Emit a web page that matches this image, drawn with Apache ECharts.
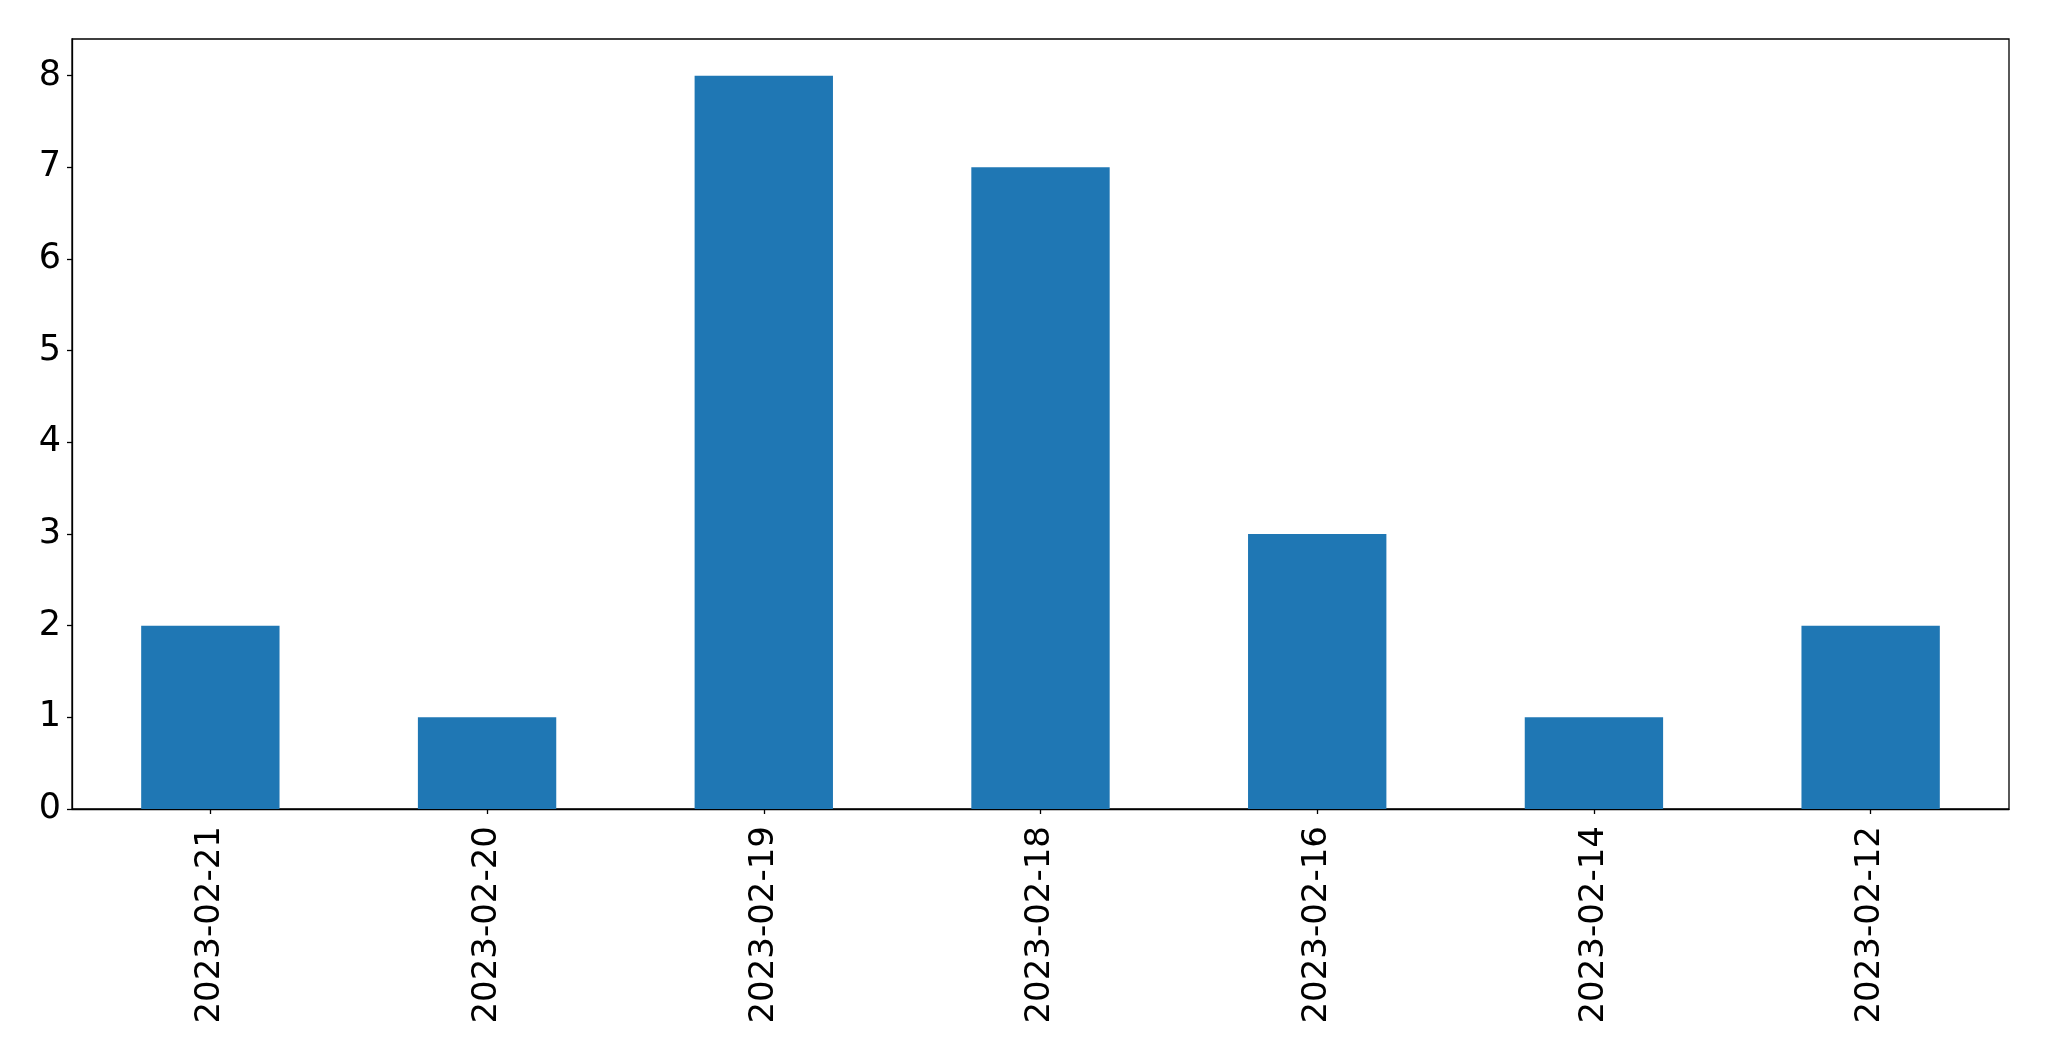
<!DOCTYPE html>
<html>
<head>
<meta charset="utf-8">
<script src="https://cdn.jsdelivr.net/npm/echarts@6/dist/echarts.min.js"></script>
<style>html,body{margin:0;padding:0;background:#fff}#c{width:2049px;height:1061px}</style>
</head>
<body>
<div id="c"></div>
<script>
const categories = ['2023-02-21','2023-02-20','2023-02-19','2023-02-18','2023-02-16','2023-02-14','2023-02-12'];
const values = [2, 1, 8, 7, 3, 1, 2];
const yTicks = [0, 1, 2, 3, 4, 5, 6, 7, 8];

const chart = echarts.init(document.getElementById('c'), null, {renderer: 'canvas'});
const font = 'DejaVu Sans';
chart.setOption({
  animation: false,
  backgroundColor: '#ffffff',
  grid: {left: 72, right: 40, top: 39, bottom: 252, show: true, borderColor: '#000', borderWidth: 1.3, backgroundColor: 'transparent'},
  xAxis: {
    type: 'category',
    data: categories,
    boundaryGap: true,
    axisLine: {show: true, lineStyle: {color: '#000', width: 1.3}},
    axisTick: {show: true, alignWithLabel: true, length: 5, lineStyle: {color: '#000', width: 1.3}},
    axisLabel: {rotate: 90, margin: 17, color: '#000', fontFamily: font, fontSize: 34},
    splitLine: {show: false}
  },
  yAxis: {
    type: 'value',
    min: 0,
    max: 8.4,
    interval: 1,
    axisLine: {show: true, lineStyle: {color: '#000', width: 1.3}},
    axisTick: {show: true, length: 5, lineStyle: {color: '#000', width: 1.3}, customValues: yTicks},
    axisLabel: {margin: 11, color: '#000', fontFamily: font, fontSize: 35, padding: [10, 0, 0, 0], customValues: yTicks},
    splitLine: {show: false}
  },
  series: [{
    type: 'bar',
    data: values,
    barWidth: '50%',
    itemStyle: {color: '#1f77b4'}
  }]
});
</script>
</body>
</html>
